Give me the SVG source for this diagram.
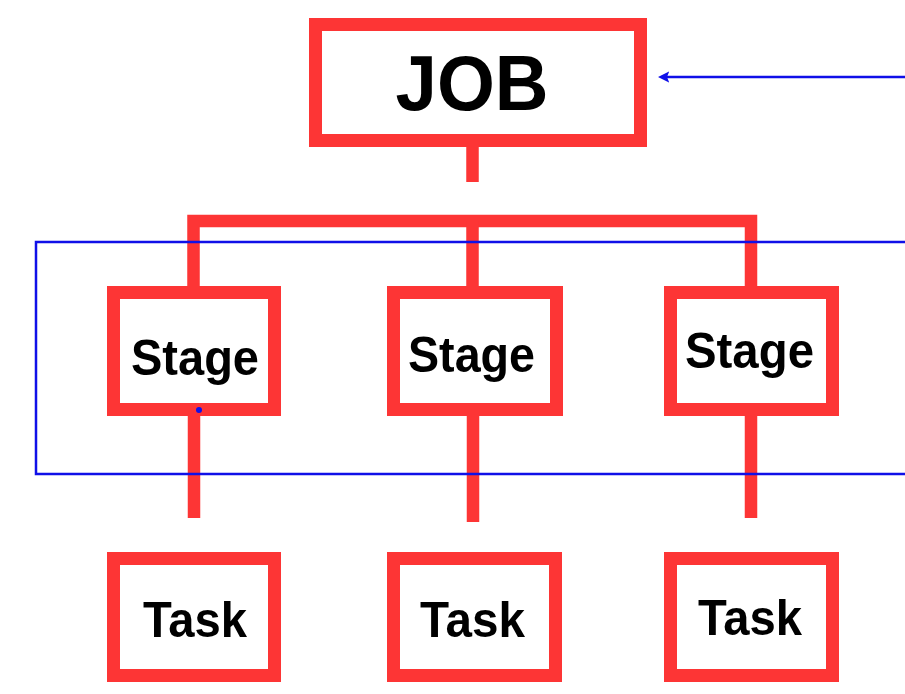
<svg xmlns="http://www.w3.org/2000/svg" width="905" height="694" viewBox="0 0 905 694">
  <style>
    .box { fill: #ffffff; stroke: #fd3535; stroke-width: 13; }
    .red { stroke: #fd3535; stroke-width: 12.5; fill: none; stroke-linecap: butt; }
    .blue { stroke: #1010e8; stroke-width: 2.5; fill: none; }
    .lbl { font-family: "Liberation Sans", Arial, sans-serif; font-weight: bold; fill: #000000; text-anchor: middle; }
  </style>
  <defs>
    <marker id="ah" viewBox="0 0 10 10" refX="2" refY="5" markerWidth="4.5" markerHeight="4.5" orient="auto" markerUnits="strokeWidth">
      <path d="M0,0 L10,5 L0,10 L2,5 Z" fill="#1010e8"/>
    </marker>
  </defs>
  <rect width="905" height="694" fill="#ffffff"/>
  <g id="connectors">
    <line class="red" x1="472.5" y1="140" x2="472.5" y2="182"/>
    <path class="red" d="M193.5,286 V221 H751 V286"/>
    <line class="red" x1="472.5" y1="221" x2="472.5" y2="286"/>
    <line class="red" x1="194" y1="410" x2="194" y2="518"/>
    <line class="red" x1="473" y1="410" x2="473" y2="522"/>
    <line class="red" x1="751" y1="410" x2="751" y2="518"/>
  </g>
  <g id="job">
    <rect class="box" x="315.5" y="24.5" width="325" height="116"/>
    <text class="lbl" x="472" y="110" font-size="78" textLength="153" lengthAdjust="spacingAndGlyphs">JOB</text>
  </g>
  <g id="stage1">
    <rect class="box" x="113.5" y="292.5" width="161" height="117"/>
    <text class="lbl" x="195" y="375" font-size="50" textLength="128" lengthAdjust="spacingAndGlyphs">Stage</text>
  </g>
  <g id="stage2">
    <rect class="box" x="393.5" y="292.5" width="163" height="117"/>
    <text class="lbl" x="471.5" y="372" font-size="50" textLength="127" lengthAdjust="spacingAndGlyphs">Stage</text>
  </g>
  <g id="stage3">
    <rect class="box" x="670.5" y="292.5" width="162" height="117"/>
    <text class="lbl" x="749.5" y="368" font-size="50" textLength="129" lengthAdjust="spacingAndGlyphs">Stage</text>
  </g>
  <g id="task1">
    <rect class="box" x="113.5" y="558.5" width="161" height="117"/>
    <text class="lbl" x="195" y="637" font-size="50" textLength="104" lengthAdjust="spacingAndGlyphs">Task</text>
  </g>
  <g id="task2">
    <rect class="box" x="393.5" y="558.5" width="162" height="117"/>
    <text class="lbl" x="472.5" y="637" font-size="50" textLength="105" lengthAdjust="spacingAndGlyphs">Task</text>
  </g>
  <g id="task3">
    <rect class="box" x="670.5" y="558.5" width="162" height="117"/>
    <text class="lbl" x="750" y="635" font-size="50" textLength="104" lengthAdjust="spacingAndGlyphs">Task</text>
  </g>
  <g id="blue-overlay">
    <path class="blue" d="M905,242 H36 V474 H905"/>
    <line class="blue" x1="905" y1="77" x2="667" y2="77" marker-end="url(#ah)"/>
    <circle cx="199" cy="410" r="3" fill="#1010e8"/>
  </g>
</svg>
